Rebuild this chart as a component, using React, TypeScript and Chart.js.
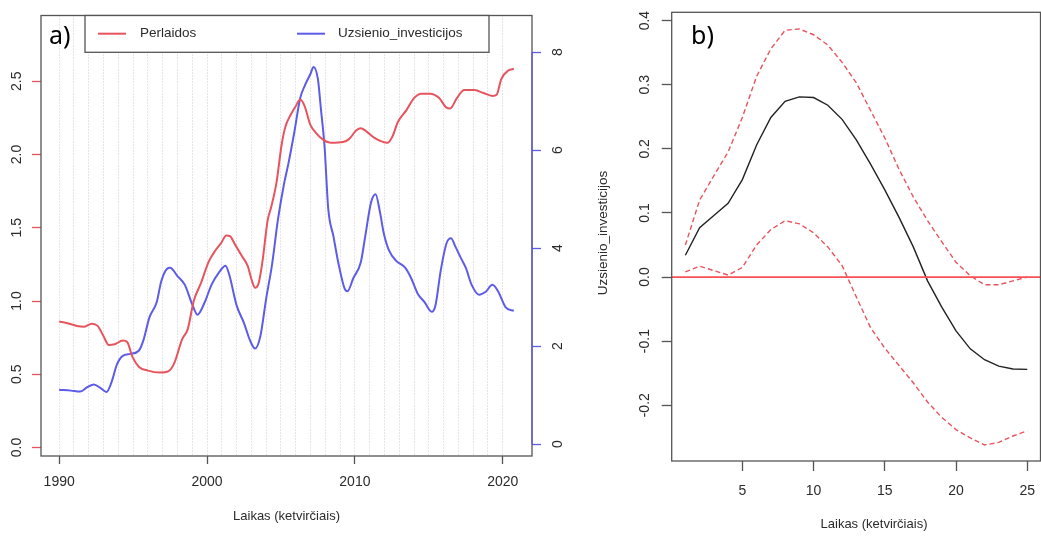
import React, { useEffect, useRef } from 'react';
import { Chart, registerables } from 'chart.js';

Chart.register(...registerables);

// ---------- Panel a) data ----------
const perlaidosYears = [1990.0, 1990.5, 1991.2, 1991.7, 1992.2, 1992.6, 1993.0, 1993.35, 1993.75, 1994.3, 1994.6, 1994.95, 1995.4, 1996.0, 1996.8, 1997.4, 1997.8, 1998.3, 1998.7, 1999.1, 1999.6, 2000.1, 2000.6, 2000.95, 2001.3, 2001.55, 2001.9, 2002.4, 2002.75, 2003.0, 2003.25, 2003.5, 2003.75, 2004.1, 2004.35, 2004.7, 2005.05, 2005.3, 2005.65, 2006.0, 2006.3, 2006.6, 2007.0, 2007.35, 2007.8, 2008.4, 2009.2, 2009.6, 2010.1, 2010.4, 2010.75, 2011.3, 2011.8, 2012.2, 2012.55, 2012.9, 2013.5, 2014.0, 2014.5, 2015.1, 2015.7, 2016.2, 2016.45, 2016.9, 2017.4, 2018.1, 2018.7, 2019.3, 2019.6, 2019.9, 2020.4, 2020.75];
const perlaidosValues = [0.86, 0.85, 0.83, 0.825, 0.845, 0.83, 0.76, 0.70, 0.705, 0.73, 0.72, 0.62, 0.55, 0.525, 0.512, 0.522, 0.58, 0.735, 0.81, 1.0, 1.125, 1.265, 1.35, 1.395, 1.448, 1.443, 1.385, 1.30, 1.24, 1.15, 1.09, 1.125, 1.27, 1.55, 1.645, 1.81, 2.07, 2.19, 2.27, 2.33, 2.375, 2.33, 2.2, 2.15, 2.105, 2.08, 2.085, 2.105, 2.165, 2.18, 2.16, 2.115, 2.09, 2.08, 2.125, 2.22, 2.305, 2.385, 2.415, 2.415, 2.385, 2.32, 2.315, 2.385, 2.44, 2.44, 2.42, 2.40, 2.41, 2.515, 2.575, 2.585];

const investYears = [1990.0, 1990.8, 1991.4, 1991.9, 1992.35, 1992.8, 1993.2, 1993.55, 1993.9, 1994.3, 1994.8, 1995.4, 1995.7, 1996.1, 1996.6, 1996.9, 1997.3, 1997.5, 1998.0, 1998.5, 1999.0, 1999.35, 1999.85, 2000.3, 2000.8, 2001.25, 2001.5, 2002.0, 2002.5, 2002.9, 2003.25, 2003.6, 2004.0, 2004.4, 2004.8, 2005.2, 2005.5, 2005.9, 2006.3, 2006.6, 2007.0, 2007.2, 2007.5, 2007.7, 2007.95, 2008.2, 2008.55, 2008.9, 2009.3, 2009.5, 2009.9, 2010.4, 2010.7, 2011.1, 2011.4, 2011.7, 2011.95, 2012.3, 2012.8, 2013.4, 2013.8, 2014.25, 2014.7, 2015.2, 2015.45, 2015.8, 2016.2, 2016.5, 2016.8, 2017.2, 2017.5, 2017.9, 2018.4, 2018.85, 2019.3, 2019.7, 2020.2, 2020.75];
const investValues = [1.11, 1.09, 1.07, 1.16, 1.215, 1.14, 1.06, 1.27, 1.62, 1.80, 1.84, 1.91, 2.12, 2.58, 2.90, 3.32, 3.58, 3.60, 3.43, 3.25, 2.85, 2.64, 2.9, 3.25, 3.5, 3.64, 3.46, 2.83, 2.47, 2.12, 1.95, 2.19, 2.97, 3.67, 4.59, 5.30, 5.72, 6.36, 7.06, 7.31, 7.56, 7.70, 7.45, 6.85, 6.07, 4.80, 4.24, 3.67, 3.18, 3.12, 3.39, 3.71, 4.24, 4.94, 5.10, 4.73, 4.31, 3.96, 3.74, 3.60, 3.39, 3.07, 2.90, 2.70, 2.83, 3.53, 4.10, 4.20, 4.03, 3.78, 3.60, 3.25, 3.05, 3.11, 3.25, 3.11, 2.79, 2.72];

const leftTicks = [0, 0.5, 1, 1.5, 2, 2.5];
const rightTicks = [0, 2, 4, 6, 8];
const xLabelYears = [1990, 2000, 2010, 2020];
const gridYears: number[] = [];
for (let yr = 1990; yr <= 2020; yr++) gridYears.push(yr);

// ---------- Panel b) data ----------
const lagQuarters = [1, 2, 3, 4, 5, 6, 7, 8, 9, 10, 11, 12, 13, 14, 15, 16, 17, 18, 19, 20, 21, 22, 23, 24, 25];
const responseValues = [0.034, 0.077, 0.096, 0.115, 0.152, 0.206, 0.249, 0.274, 0.281, 0.280, 0.268, 0.246, 0.214, 0.176, 0.136, 0.093, 0.047, -0.006, -0.047, -0.084, -0.112, -0.129, -0.139, -0.1435, -0.144];
const upperValues = [0.05, 0.12, 0.158, 0.195, 0.249, 0.313, 0.356, 0.385, 0.387, 0.378, 0.362, 0.335, 0.303, 0.26, 0.217, 0.168, 0.125, 0.088, 0.055, 0.023, 0.002, -0.012, -0.012, -0.006, 0.0];
const lowerValues = [0.008, 0.017, 0.01, 0.003, 0.015, 0.05, 0.074, 0.088, 0.083, 0.069, 0.047, 0.018, -0.031, -0.079, -0.111, -0.138, -0.165, -0.195, -0.219, -0.238, -0.251, -0.262, -0.258, -0.248, -0.24];
const bXTicks = [5, 10, 15, 20, 25];
const bYTicks = [-0.2, -0.1, 0, 0.1, 0.2, 0.3, 0.4];
const bXMin = 0.04;
const bXMax = 25.93;

// ---------- styles ----------
const FONT = '"Liberation Sans", Arial, sans-serif';
const TEXT = '#2b2b2b';
const BOX = '#555555';
const RED = 'rgb(232,84,94)';
const BLUE = 'rgb(92,92,232)';
const GRID = '#cccccc';
const XTITLE = 'Laikas (ketvirčiais)';

function rotatedText(ctx: CanvasRenderingContext2D, text: string, x: number, y: number, font: string) {
  ctx.save();
  ctx.translate(x, y);
  ctx.rotate(-Math.PI / 2);
  ctx.font = font;
  ctx.fillStyle = TEXT;
  ctx.textAlign = 'center';
  ctx.textBaseline = 'middle';
  ctx.fillText(text, 0, 0);
  ctx.restore();
}

const noPad = (s: any) => {
  s.paddingLeft = 0;
  s.paddingRight = 0;
  s.paddingTop = 0;
  s.paddingBottom = 0;
};

const panelAPlugin = {
  id: 'panelA',
  afterDraw(chart: any) {
    const { ctx, chartArea: a, scales } = chart;
    ctx.save();
    ctx.strokeStyle = BOX;
    ctx.lineWidth = 1.3;
    ctx.strokeRect(a.left, a.top, a.right - a.left, a.bottom - a.top);
    // right axis line in blue
    const y1 = scales.y1;
    ctx.strokeStyle = BLUE;
    ctx.lineWidth = 1.3;
    ctx.beginPath();
    ctx.moveTo(a.right, y1.getPixelForValue(rightTicks[0]));
    ctx.lineTo(a.right, y1.getPixelForValue(rightTicks[rightTicks.length - 1]));
    ctx.stroke();
    // tick labels
    leftTicks.forEach((v) => rotatedText(ctx, v.toFixed(1), 17, scales.y.getPixelForValue(v), `14px ${FONT}`));
    rightTicks.forEach((v) => rotatedText(ctx, String(v), 558, y1.getPixelForValue(v), `14px ${FONT}`));
    // x title
    ctx.font = `13px ${FONT}`;
    ctx.fillStyle = TEXT;
    ctx.textAlign = 'center';
    ctx.textBaseline = 'middle';
    ctx.fillText(XTITLE, (a.left + a.right) / 2, 516);
    // legend
    const lx0 = 85, lx1 = 489, ly0 = a.top, ly1 = 52.3;
    ctx.fillStyle = '#ffffff';
    ctx.fillRect(lx0, ly0, lx1 - lx0, ly1 - ly0);
    ctx.strokeStyle = BOX;
    ctx.lineWidth = 1.3;
    ctx.strokeRect(lx0, ly0, lx1 - lx0, ly1 - ly0);
    const ly = 33.7;
    ctx.lineWidth = 2;
    ctx.strokeStyle = RED;
    ctx.beginPath(); ctx.moveTo(98, ly); ctx.lineTo(126, ly); ctx.stroke();
    ctx.strokeStyle = BLUE;
    ctx.beginPath(); ctx.moveTo(297, ly); ctx.lineTo(325, ly); ctx.stroke();
    ctx.font = `13.5px ${FONT}`;
    ctx.fillStyle = TEXT;
    ctx.textAlign = 'left';
    ctx.textBaseline = 'middle';
    ctx.fillText('Perlaidos', 140, ly);
    ctx.fillText('Uzsienio_investicijos', 338, ly);
    // panel label
    ctx.font = `25px "Noto Sans", "Open Sans", sans-serif`;
    ctx.fillStyle = '#000000';
    ctx.textBaseline = 'alphabetic';
    ctx.fillText('a)', 49, 43.5);
    ctx.restore();
  },
};

const panelBPlugin = {
  id: 'panelB',
  afterDraw(chart: any) {
    const { ctx, chartArea: a, scales } = chart;
    ctx.save();
    ctx.strokeStyle = BOX;
    ctx.lineWidth = 1.3;
    ctx.strokeRect(a.left, a.top, a.right - a.left, a.bottom - a.top);
    bYTicks.forEach((v) => rotatedText(ctx, v.toFixed(1), 85, scales.y.getPixelForValue(v), `14px ${FONT}`));
    rotatedText(ctx, 'Uzsienio_investicijos', 43, 233, `13.5px ${FONT}`);
    ctx.font = `13px ${FONT}`;
    ctx.fillStyle = TEXT;
    ctx.textAlign = 'center';
    ctx.textBaseline = 'middle';
    ctx.fillText(XTITLE, 314, 524);
    ctx.font = `25px "Noto Sans", "Open Sans", sans-serif`;
    ctx.fillStyle = '#000000';
    ctx.textAlign = 'left';
    ctx.textBaseline = 'alphabetic';
    ctx.fillText('b)', 131, 44);
    ctx.restore();
  },
};

function PanelA() {
  const ref = useRef<HTMLCanvasElement | null>(null);
  useEffect(() => {
    if (!ref.current) return;
    const chart = new Chart(ref.current, {
      type: 'line',
      data: {
        datasets: [
          {
            label: 'Perlaidos',
            data: perlaidosYears.map((x, i) => ({ x, y: perlaidosValues[i] })),
            yAxisID: 'y',
            borderColor: RED,
            borderWidth: 2,
            pointRadius: 0,
            cubicInterpolationMode: 'monotone',
            fill: false,
          },
          {
            label: 'Uzsienio_investicijos',
            data: investYears.map((x, i) => ({ x, y: investValues[i] })),
            yAxisID: 'y1',
            borderColor: BLUE,
            borderWidth: 2,
            pointRadius: 0,
            cubicInterpolationMode: 'monotone',
            fill: false,
          },
        ],
      },
      options: {
        responsive: false,
        animation: false,
        devicePixelRatio: 1,
        layout: { padding: { top: 15.5, left: 0, right: 0, bottom: 0 } },
        plugins: { legend: { display: false }, tooltip: { enabled: false } },
        scales: {
          x: {
            type: 'linear',
            position: 'bottom',
            min: 1988.77,
            max: 2021.98,
            afterBuildTicks: (s: any) => { s.ticks = gridYears.map((v) => ({ value: v })); },
            afterFit: (s: any) => { s.height = 84; noPad(s); },
            ticks: {
              autoSkip: false,
              maxRotation: 0,
              minRotation: 0,
              padding: 9.5,
              color: TEXT,
              font: { family: FONT, size: 14 },
              callback: (v: any) => (xLabelYears.includes(Number(v)) ? String(v) : ''),
            },
            grid: {
              color: GRID,
              lineWidth: 1,
              drawTicks: true,
              tickLength: 8,
              tickWidth: 1.3,
              tickColor: (c: any) => (c.tick && xLabelYears.includes(c.tick.value) ? BOX : 'rgba(0,0,0,0)'),
            },
            border: { display: false, dash: [1, 2] },
          },
          y: {
            type: 'linear',
            position: 'left',
            min: -0.058,
            max: 2.949,
            afterBuildTicks: (s: any) => { s.ticks = leftTicks.map((v) => ({ value: v })); },
            afterFit: (s: any) => { s.width = 41; noPad(s); },
            ticks: { display: false },
            grid: { drawOnChartArea: false, drawTicks: true, tickLength: 9, tickColor: RED, tickWidth: 1.3 },
            border: { display: false },
          },
          y1: {
            type: 'linear',
            position: 'right',
            min: -0.245,
            max: 8.75,
            afterBuildTicks: (s: any) => { s.ticks = rightTicks.map((v) => ({ value: v })); },
            afterFit: (s: any) => { s.width = 43; noPad(s); },
            ticks: { display: false },
            grid: { drawOnChartArea: false, drawTicks: true, tickLength: 9, tickColor: BLUE, tickWidth: 1.3 },
            border: { display: false },
          },
        },
      } as any,
      plugins: [panelAPlugin],
    });
    return () => chart.destroy();
  }, []);
  return <canvas ref={ref} width={575} height={540} style={{ position: 'absolute', left: 0, top: 0 }} />;
}

function PanelB() {
  const ref = useRef<HTMLCanvasElement | null>(null);
  useEffect(() => {
    if (!ref.current) return;
    const chart = new Chart(ref.current, {
      type: 'line',
      data: {
        datasets: [
          {
            label: 'zero',
            data: [{ x: bXMin, y: 0 }, { x: bXMax, y: 0 }],
            borderColor: 'rgb(250,80,85)',
            borderWidth: 1.8,
            pointRadius: 0,
            tension: 0,
          },
          {
            label: 'response',
            data: lagQuarters.map((x, i) => ({ x, y: responseValues[i] })),
            borderColor: '#222222',
            borderWidth: 1.4,
            pointRadius: 0,
            tension: 0,
          },
          {
            label: 'upper',
            data: lagQuarters.map((x, i) => ({ x, y: upperValues[i] })),
            borderColor: RED,
            borderWidth: 1.4,
            borderDash: [5, 3],
            pointRadius: 0,
            tension: 0,
          },
          {
            label: 'lower',
            data: lagQuarters.map((x, i) => ({ x, y: lowerValues[i] })),
            borderColor: RED,
            borderWidth: 1.4,
            borderDash: [5, 3],
            pointRadius: 0,
            tension: 0,
          },
        ],
      },
      options: {
        responsive: false,
        animation: false,
        devicePixelRatio: 1,
        layout: { padding: { top: 12.3, left: 0, right: 0.5, bottom: 0 } },
        plugins: { legend: { display: false }, tooltip: { enabled: false } },
        scales: {
          x: {
            type: 'linear',
            position: 'bottom',
            min: bXMin,
            max: bXMax,
            afterBuildTicks: (s: any) => { s.ticks = bXTicks.map((v) => ({ value: v })); },
            afterFit: (s: any) => { s.height = 79; noPad(s); },
            ticks: {
              autoSkip: false,
              maxRotation: 0,
              minRotation: 0,
              padding: 12,
              color: TEXT,
              font: { family: FONT, size: 14 },
              callback: (v: any) => String(v),
            },
            grid: { drawOnChartArea: false, drawTicks: true, tickLength: 10, tickColor: BOX, tickWidth: 1.3 },
            border: { display: false },
          },
          y: {
            type: 'linear',
            position: 'left',
            min: -0.287,
            max: 0.413,
            afterBuildTicks: (s: any) => { s.ticks = bYTicks.map((v) => ({ value: v })); },
            afterFit: (s: any) => { s.width = 111.7; noPad(s); },
            ticks: { display: false },
            grid: { drawOnChartArea: false, drawTicks: true, tickLength: 10, tickColor: BOX, tickWidth: 1.3 },
            border: { display: false },
          },
        },
      } as any,
      plugins: [panelBPlugin],
    });
    return () => chart.destroy();
  }, []);
  return <canvas ref={ref} width={481} height={540} style={{ position: 'absolute', left: 560, top: 0 }} />;
}

export default function App() {
  return (
    <div style={{ position: 'absolute', left: 0, top: 0, width: 1041, height: 540, overflow: 'hidden', background: '#ffffff' }}>
      <PanelA />
      <PanelB />
    </div>
  );
}
